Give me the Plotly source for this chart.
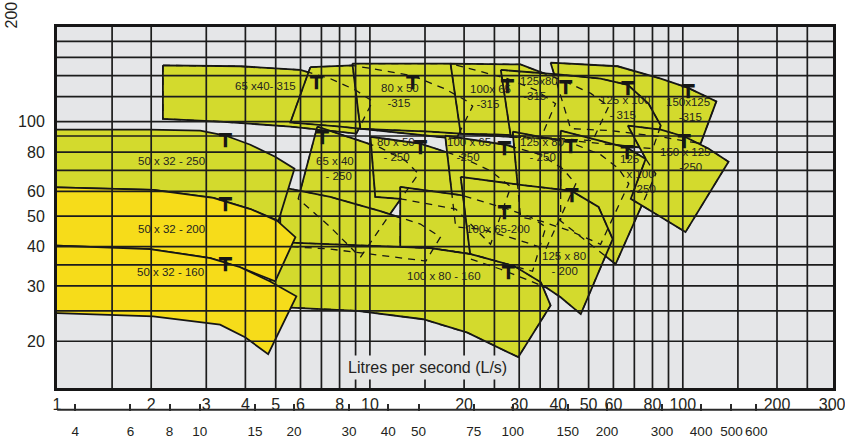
import math
import plotly.graph_objects as go

# ---------------- axis values ----------------
x_grid = [1.5, 2, 3, 4, 5, 6, 7, 8, 9, 10, 15, 20, 25, 30, 35, 40, 50, 60, 70, 80, 90, 100, 150, 200, 250]
y_grid = [20, 25, 30, 35, 40, 50, 60, 70, 80, 90, 100, 120, 140, 160, 180]
x_labels = [1, 2, 3, 4, 5, 6, 8, 10, 20, 30, 40, 50, 60, 80, 100, 200, 300]
y_labels = [20, 30, 40, 50, 60, 80, 100]
m3h_labels = [4, 6, 8, 10, 15, 20, 30, 40, 50, 75, 100, 150, 200, 300, 400, 500, 600]
m3h_ends = [3.5, 1050]

# ---------------- pump tiles: flow Q (L/s), head H (m) ----------------
# 315 impeller row
q_65x40_315 = [2.18, 3.85, 5.99, 7.47, 8.99, 10.2, 9.05, 5.57, 3.32, 2.18]
h_65x40_315 = [151, 150, 146, 137, 126, 116, 91.6, 96.4, 100, 102]
q_80x50_315 = [6.45, 8.79, 13.7, 17.4, 20.2, 21.3, 18.9, 12.5, 8.05, 5.57]
h_80x50_315 = [149, 151, 140, 127, 117, 112, 88.2, 92.2, 96.4, 99.3]
q_100x65_315 = [8.79, 18.1, 27.5, 33.9, 39.2, 35.1, 24.3, 15.6, 10.8, 9.32]
h_100x65_315 = [153, 153, 137, 126, 114, 88.2, 90.2, 92.9, 94.3, 95.0]
q_125x80_315 = [18.1, 30.3, 42.2, 50.8, 58.0, 51.5, 36.5, 26.2, 19.5]
h_125x80_315 = [153, 152, 134, 123, 112, 86.9, 88.9, 90.9, 91.6]
q_150x125_315 = [37.8, 61.9, 85.0, 104, 128, 114, 85.0, 58.8, 43.8]
h_150x125_315 = [154, 150, 137, 128, 116, 85.1, 89.5, 93.6, 95.0]
q_125x100_315 = [26.2, 40.7, 54.6, 66.7, 77.8, 85.0, 80.2, 58.8, 40.7, 28.2]
h_125x100_315 = [146, 141, 137, 131, 114, 97.1, 82.0, 84.4, 87.6, 89.5]
# 250 impeller row
q_65x40_250 = [6.79, 8.35, 10.8, 13.0, 14.3, 11.6, 9.32, 7.47, 5.90]
h_65x40_250 = [96.4, 90.2, 82.6, 75.0, 68.2, 50.8, 37.0, 46.2, 56.8]
q_80x50_250 = [10.04, 14.5, 19.5, 24.3, 28.2, 24.3, 18.8, 12.5, 10.4]
h_80x50_250 = [89.5, 85.1, 77.3, 69.7, 62.0, 40.7, 52.7, 56.8, 57.6]
q_100x65_250 = [17.4, 27.1, 35.1, 41.3, 45.5, 36.5, 29.2, 22.6, 18.8]
h_100x65_250 = [90.2, 84.4, 78.5, 70.8, 63.4, 39.3, 42.3, 45.5, 46.2]
q_125x80_250 = [28.6, 43.8, 54.6, 62.4, 67.2, 54.6, 43.8, 35.1, 30.3]
h_125x80_250 = [92.9, 85.7, 78.5, 70.8, 63.4, 40.7, 44.8, 48.3, 49.7]
q_125x100_250 = [40.7, 66.2, 76.1, 82.0, 61.0, 50.8, 43.8, 40.7]
h_125x100_250 = [93.6, 82.6, 76.1, 68.2, 35.2, 40.7, 45.5, 48.3]
q_150x125_250 = [66.7, 85.0, 101.5, 121, 140, 102, 82.0, 68.2, 76.1]
h_150x125_250 = [97.1, 94.3, 89.5, 82.0, 74.5, 44.5, 50.8, 56.8, 76.1]
# 200 impeller row
q_65x40_200 = [5.17, 7.47, 10.8, 14.5, 16.8, 15.1, 7.47, 5.17]
h_65x40_200 = [62.0, 57.6, 51.9, 47.2, 42.9, 36.0, 39.3, 40.2]
q_100x65_200 = [12.5, 19.5, 26.9, 32.6, 36.5, 33.1, 21.0, 15.6, 12.5]
h_100x65_200 = [62.0, 58.4, 53.1, 49.7, 46.2, 33.4, 37.9, 39.6, 39.9]
q_125x80_200 = [19.5, 30.3, 44.1, 53.8, 59.7, 47.2, 40.7, 36.5, 26.2, 21.0]
h_125x80_200 = [66.7, 62.9, 60.2, 53.5, 42.3, 24.4, 27.6, 29.7, 33.9, 36.5]
# 160 impeller row
q_100x80_160 = [4.80, 9.33, 15.6, 21.0, 28.9, 35.2, 37.8, 29.8, 20.5, 14.8, 9.12, 5.17, 4.80]
h_100x80_160 = [41.4, 40.5, 39.6, 37.9, 34.7, 30.8, 26.0, 17.8, 21.3, 23.5, 25.0, 25.7, 26.0]
# 50x32 family
q_50x32_250 = [0.88, 1.98, 2.87, 3.45, 4.15, 4.98, 5.74, 5.10, 4.15, 3.16, 2.03, 0.88]
h_50x32_250 = [94.3, 94.3, 93.6, 90.3, 84.4, 77.3, 70.8, 48.3, 52.7, 57.2, 60.6, 62.0]
q_50x32_200 = [0.88, 2.03, 3.16, 4.15, 5.06, 5.78, 4.98, 3.85, 3.09, 1.98, 0.88]
h_50x32_200 = [62.0, 60.6, 57.2, 52.7, 48.3, 42.9, 31.0, 34.4, 36.8, 39.3, 40.5]
q_50x32_160 = [0.88, 1.98, 3.09, 3.85, 4.80, 5.82, 4.73, 3.99, 3.32, 2.03, 0.88]
h_50x32_160 = [40.5, 39.3, 36.8, 34.4, 31.0, 27.8, 18.2, 20.6, 22.6, 24.0, 24.7]

# best-efficiency markers
bep_q = [6.74, 13.7, 27.5, 42.2, 66.7, 104, 3.45, 3.45, 3.45, 7.05, 14.5, 26.9, 43.8, 66.3, 101, 26.9, 27.7, 44.2]
bep_h = [137, 137, 133, 132, 131, 128, 89.5, 56.0, 36.0, 91.6, 85.1, 84.4, 85.7, 82.0, 88.9, 52.7, 33.9, 59.8]

# tile labels
tile_labels = ["65 x40- 315", "80 x 50<br>  -315", "100x 65<br>  -315", "125x80<br> -315",
               "125 x 100<br>   - 315", "150x125<br>    -315",
               "50 x 32 - 250", "50 x 32 - 200", "50 x 32 - 160",
               "65 x 40<br>   - 250", "80 x 50<br>  - 250", "100 x 65<br>   -250", "125 x 80<br>   - 250",
               "125<br>  x 100<br>   - 250", "150 x 125<br>      -250",
               "100x 65-200", "125 x 80<br>   - 200", "100 x 80 - 160"]
label_q = [4.63, 12.5, 24.3, 34.6, 65.8, 104, 2.33, 2.33, 2.30, 7.75, 12.1, 20.7, 35.6, 71.8, 102, 25.6, 41.6, 17.3]
label_h = [130, 121, 120, 127, 111, 109, 75.0, 45.5, 33.2, 70.8, 81.4, 81.4, 81.4, 68.2, 75.6, 45.5, 35.4, 32.2]

GREEN = "#d3da2d"
YELLOW = "#f6dc1a"
INK = "#161616"
BG = "#e5e6e8"

mid_tiles = [
    (q_65x40_315, h_65x40_315), (q_80x50_315, h_80x50_315), (q_100x65_315, h_100x65_315),
    (q_125x80_315, h_125x80_315), (q_150x125_315, h_150x125_315), (q_125x100_315, h_125x100_315),
    (q_65x40_250, h_65x40_250), (q_80x50_250, h_80x50_250), (q_100x65_250, h_100x65_250),
    (q_125x80_250, h_125x80_250), (q_125x100_250, h_125x100_250), (q_150x125_250, h_150x125_250),
    (q_65x40_200, h_65x40_200), (q_100x65_200, h_100x65_200), (q_125x80_200, h_125x80_200),
    (q_100x80_160, h_100x80_160),
]
front_tiles = [
    (q_50x32_250, h_50x32_250, GREEN),
    (q_50x32_200, h_50x32_200, YELLOW),
    (q_50x32_160, h_50x32_160, YELLOW),
]

fig = go.Figure()


def closed(a):
    return list(a) + [a[0]]


for q, h in mid_tiles:
    fig.add_trace(go.Scatter(x=closed(q), y=closed(h), mode="lines", fill="toself",
                             fillcolor=GREEN, line=dict(color=INK, width=1.8),
                             hoverinfo="skip", showlegend=False))
# hidden edges shown dashed
for q, h in mid_tiles:
    fig.add_trace(go.Scatter(x=closed(q), y=closed(h), mode="lines",
                             line=dict(color=INK, width=1.3, dash="7px,6px"),
                             hoverinfo="skip", showlegend=False))
for q, h, c in front_tiles:
    fig.add_trace(go.Scatter(x=closed(q), y=closed(h), mode="lines", fill="toself",
                             fillcolor=c, line=dict(color=INK, width=1.8),
                             hoverinfo="skip", showlegend=False))

# grid drawn over the tiles
gx, gy = [], []
for v in x_grid:
    gx += [v, v, None]
    gy += [10, 300, None]
fig.add_trace(go.Scatter(x=gx, y=gy, mode="lines", line=dict(color="#1c1c1c", width=1.7),
                         hoverinfo="skip", showlegend=False))
hx, hy = [], []
for v in y_grid:
    hx += [0.5, 500, None]
    hy += [v, v, None]
fig.add_trace(go.Scatter(x=hx, y=hy, mode="lines", line=dict(color="#1c1c1c", width=1.7),
                         hoverinfo="skip", showlegend=False))

# BEP markers
fig.add_trace(go.Scatter(x=bep_q, y=bep_h, mode="text", text=["┳"] * len(bep_q),
                         textposition="middle center",
                         textfont=dict(family="DejaVu Sans", size=21, color=INK),
                         hoverinfo="skip", showlegend=False))

# m3/h scale: its own thin subplot below the chart, scale line near its bottom edge
fig.add_trace(go.Scatter(x=m3h_ends, y=[0, 0], xaxis="x2", yaxis="y2", mode="lines",
                         line=dict(color="#2a2a2a", width=2), hoverinfo="skip", showlegend=False))

LABEL_FONT = dict(family="Liberation Sans, Arial, sans-serif", size=11.5, color="#231f20")
annotations = []
for t, q, h in zip(tile_labels, label_q, label_h):
    annotations.append(dict(x=math.log10(q), y=math.log10(h), xref="x", yref="y", text=t,
                            xanchor="center", yanchor="middle",
                            showarrow=False, align="left", font=LABEL_FONT))
annotations.append(dict(x=math.log10(15.3), y=math.log10(16.5), xref="x", yref="y",
                        xanchor="center", yanchor="middle",
                        text="Litres per second (L/s)", showarrow=False, bgcolor=BG, borderpad=3,
                        font=dict(family="Liberation Sans, Arial, sans-serif", size=16, color="#231f20")))
annotations.append(dict(x=-0.058, y=1.03, xref="paper", yref="paper", text="200", textangle=-90,
                        xanchor="center", yanchor="middle", showarrow=False,
                        font=dict(family="Liberation Sans, Arial, sans-serif", size=16, color="#231f20")))

TICK_FONT = dict(family="Liberation Sans Narrow, Liberation Sans, Arial, sans-serif", size=16, color="#231f20")
TICK_FONT2 = dict(family="Liberation Sans Narrow, Liberation Sans, Arial, sans-serif", size=13.5, color="#231f20")

# y2 domain: from ~411 px up to ~404 px, so ticks rise above the scale line
Y2_DOM = [0.0769, 0.0938]

fig.update_layout(
    width=845, height=443,
    margin=dict(l=57, r=12, t=27, b=0),
    paper_bgcolor="white", plot_bgcolor="rgba(0,0,0,0)",
    showlegend=False,
    xaxis=dict(type="log", range=[0, 2.48], tickvals=x_labels, ticktext=[str(v) for v in x_labels],
               showgrid=False, zeroline=False, showline=True, mirror=True, linewidth=3, linecolor=INK,
               ticks="", tickfont=TICK_FONT, ticklabelstandoff=0, tickangle=0,
               ticklabeloverflow="allow", automargin=False),
    yaxis=dict(type="log", range=[math.log10(14.2), math.log10(200)], domain=[0.1322, 1],
               tickvals=y_labels, ticktext=[str(v) for v in y_labels],
               showgrid=False, zeroline=False, showline=True, mirror=True, linewidth=3, linecolor=INK,
               ticks="", tickfont=TICK_FONT, ticklabelstandoff=6, automargin=False),
    xaxis2=dict(type="log", anchor="y2", side="bottom", domain=[0, 1],
                range=[0.5435, 0.5435 + 2.48],
                tickvals=[m3h_ends[0]] + m3h_labels + [m3h_ends[1]],
                ticktext=[""] + [str(v) for v in m3h_labels] + [""],
                showgrid=True, gridcolor="#2a2a2a", gridwidth=1.5,
                zeroline=False, showline=False,
                ticks="", tickangle=0,
                tickfont=TICK_FONT2, ticklabelstandoff=10, ticklabeloverflow="allow", automargin=False),
    yaxis2=dict(domain=Y2_DOM, anchor="x2", range=[-0.2, 1], visible=False, fixedrange=True),
    annotations=annotations,
)
# gray only behind the main chart
fig.add_shape(type="rect", xref="x domain", yref="y domain", x0=0, x1=1, y0=0, y1=1,
              fillcolor=BG, line=dict(width=0), layer="below")

fig.write_html("out.html", config={"displayModeBar": False},
               post_script="document.body.style.margin='0px';document.body.style.overflow='hidden';")
